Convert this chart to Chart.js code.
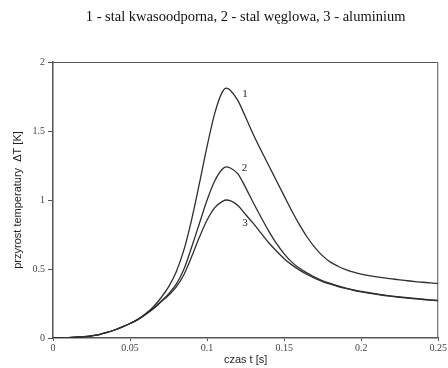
<!DOCTYPE html>
<html>
<head>
<meta charset="utf-8">
<script src="https://cdn.jsdelivr.net/npm/chart.js@4/dist/chart.umd.min.js"></script>
<style>
html,body{margin:0;padding:0;background:#fff;}
#wrap{width:448px;height:368px;}
</style>
</head>
<body>
<div id="wrap"><canvas id="c" width="448" height="368"></canvas></div>
<script>
const titleText = "1 - stal kwasoodporna, 2 - stal węglowa, 3 - aluminium";
const xTitle = "czas t [s]";
const yTitle = "przyrost temperatury  ΔT [K]";
const xTickLabels = ["0", "0.05", "0.1", "0.15", "0.2", "0.25"];
const yTickLabels = ["0", "0.5", "1", "1.5", "2"];

const time = [0, 0.005, 0.01, 0.015, 0.02, 0.025, 0.03, 0.035, 0.04, 0.045, 0.05, 0.055, 0.06, 0.065, 0.07, 0.075, 0.08, 0.085, 0.09, 0.095, 0.10, 0.105, 0.11, 0.1125, 0.115, 0.12, 0.125, 0.13, 0.135, 0.14, 0.145, 0.15, 0.155, 0.16, 0.165, 0.17, 0.175, 0.18, 0.185, 0.19, 0.195, 0.20, 0.205, 0.21, 0.215, 0.22, 0.225, 0.23, 0.235, 0.24, 0.245, 0.25];
const steelAcid   = [0, 0.001, 0.003, 0.006, 0.01, 0.016, 0.025, 0.04, 0.058, 0.08, 0.105, 0.135, 0.175, 0.225, 0.29, 0.37, 0.48, 0.64, 0.86, 1.12, 1.39, 1.63, 1.785, 1.81, 1.795, 1.72, 1.60, 1.475, 1.36, 1.25, 1.14, 1.03, 0.92, 0.82, 0.73, 0.655, 0.595, 0.55, 0.52, 0.495, 0.477, 0.463, 0.452, 0.443, 0.435, 0.428, 0.421, 0.415, 0.409, 0.404, 0.399, 0.395];
const steelCarbon = [0, 0.001, 0.003, 0.006, 0.01, 0.016, 0.025, 0.04, 0.058, 0.08, 0.105, 0.133, 0.17, 0.215, 0.265, 0.32, 0.39, 0.50, 0.66, 0.83, 1.00, 1.14, 1.225, 1.24, 1.232, 1.19, 1.09, 0.98, 0.875, 0.775, 0.685, 0.61, 0.55, 0.505, 0.47, 0.44, 0.415, 0.395, 0.377, 0.362, 0.349, 0.338, 0.328, 0.319, 0.311, 0.304, 0.298, 0.292, 0.287, 0.282, 0.277, 0.273];
const aluminium   = [0, 0.001, 0.003, 0.006, 0.01, 0.016, 0.025, 0.04, 0.058, 0.08, 0.105, 0.133, 0.17, 0.21, 0.26, 0.31, 0.37, 0.46, 0.59, 0.73, 0.855, 0.945, 0.99, 1.0, 0.995, 0.96, 0.895, 0.83, 0.76, 0.69, 0.63, 0.575, 0.53, 0.492, 0.46, 0.432, 0.409, 0.39, 0.373, 0.359, 0.346, 0.335, 0.325, 0.316, 0.308, 0.301, 0.295, 0.289, 0.284, 0.279, 0.274, 0.27];

const curveLabels = ["1", "2", "3"];
const curveLabelX = [0.1228, 0.1225, 0.1228];
const curveLabelY = [1.77, 1.23, 0.83];

const toPts = ys => time.map((t, i) => ({x: t, y: ys[i]}));
const lineColor = "#2e2e2e";
const mkDs = (label, ys) => ({
  label, data: toPts(ys), showLine: true, borderColor: lineColor, borderWidth: 1.3,
  pointRadius: 0, fill: false, cubicInterpolationMode: 'monotone'
});

const framePlugin = {
  id: 'frame',
  afterDatasetsDraw(chart) {
    const {ctx, chartArea: a, scales} = chart;
    ctx.save();
    ctx.strokeStyle = "#555";
    ctx.lineWidth = 1;
    ctx.beginPath();
    ctx.moveTo(a.left, a.top + 0.5);
    ctx.lineTo(a.right - 0.5, a.top + 0.5);
    ctx.lineTo(a.right - 0.5, a.bottom);
    ctx.stroke();
    ctx.fillStyle = "#222";
    ctx.font = "11px 'Liberation Serif'";
    ctx.textAlign = "left";
    ctx.textBaseline = "middle";
    curveLabels.forEach((l, i) => {
      ctx.fillText(l, scales.x.getPixelForValue(curveLabelX[i]), scales.y.getPixelForValue(curveLabelY[i]));
    });
    ctx.restore();
  }
};

new Chart(document.getElementById('c'), {
  type: 'scatter',
  data: { datasets: [mkDs('1', steelAcid), mkDs('2', steelCarbon), mkDs('3', aluminium)] },
  options: {
    responsive: false,
    animation: false,
    layout: { padding: { left: 0, right: 8, top: 0, bottom: 0 } },
    plugins: {
      legend: { display: false },
      tooltip: { enabled: false },
      title: {
        display: true, text: titleText, fullSize: false, color: "#111",
        font: { family: "'Liberation Serif'", size: 14.5, weight: 'normal' },
        padding: { top: 8, bottom: 36.6 }
      }
    },
    scales: {
      x: {
        type: 'linear', min: 0, max: 0.25,
        afterBuildTicks: s => { s.ticks = xTickLabels.map((_, i) => ({ value: i * 0.05 })); },
        afterFit: s => { s.height = 30; },
        ticks: {
          callback: (v, i) => xTickLabels[i], color: "#444", padding: 1, maxRotation: 0, autoSkip: false,
          font: { family: "'Liberation Serif'", size: 10 }
        },
        grid: { drawOnChartArea: false, drawTicks: true, tickLength: 3, color: "#555" },
        border: { color: "#555", width: 1.5 },
        title: { display: true, text: xTitle, color: "#222", font: { family: "'Liberation Sans'", size: 11 }, padding: { top: 0, bottom: 1 } }
      },
      y: {
        type: 'linear', min: 0, max: 2,
        afterBuildTicks: s => { s.ticks = yTickLabels.map((_, i) => ({ value: i * 0.5 })); },
        afterFit: s => { s.width = 53; },
        ticks: {
          callback: (v, i) => yTickLabels[i], color: "#444", padding: 3,
          font: { family: "'Liberation Serif'", size: 10 }
        },
        grid: { drawOnChartArea: false, drawTicks: true, tickLength: 5, color: "#555" },
        border: { color: "#555", width: 1.5 },
        title: { display: true, text: yTitle, color: "#222", font: { family: "'Liberation Sans'", size: 11 }, padding: { top: 11, bottom: 0 } }
      }
    }
  },
  plugins: [framePlugin]
});
</script>
</body>
</html>
